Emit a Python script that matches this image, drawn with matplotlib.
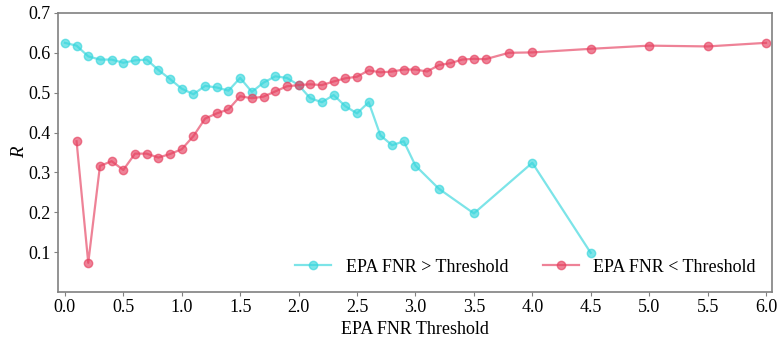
import matplotlib
matplotlib.use("Agg")
import matplotlib.pyplot as plt

plt.rcParams['font.family'] = ['Liberation Serif', 'DejaVu Serif']

x_gt = [0.0, 0.1, 0.2, 0.3, 0.4, 0.5, 0.6, 0.7, 0.8, 0.9, 1.0, 1.1, 1.2, 1.3, 1.4,
        1.5, 1.6, 1.7, 1.8, 1.9, 2.0, 2.1, 2.2, 2.3, 2.4, 2.5, 2.6, 2.7, 2.8, 2.9,
        3.0, 3.2, 3.5, 4.0, 4.5]
r_gt = [0.625, 0.618, 0.591, 0.583, 0.583, 0.575, 0.581, 0.583, 0.557, 0.534, 0.510,
        0.496, 0.517, 0.513, 0.505, 0.537, 0.502, 0.525, 0.541, 0.537, 0.519, 0.486,
        0.476, 0.494, 0.466, 0.448, 0.476, 0.393, 0.368, 0.378, 0.317, 0.259, 0.197,
        0.324, 0.098]

x_lt = [0.1, 0.2, 0.3, 0.4, 0.5, 0.6, 0.7, 0.8, 0.9, 1.0, 1.1, 1.2, 1.3, 1.4, 1.5,
        1.6, 1.7, 1.8, 1.9, 2.0, 2.1, 2.2, 2.3, 2.4, 2.5, 2.6, 2.7, 2.8, 2.9, 3.0,
        3.1, 3.2, 3.3, 3.4, 3.5, 3.6, 3.8, 4.0, 4.5, 5.0, 5.5, 6.0]
r_lt = [0.378, 0.073, 0.316, 0.328, 0.306, 0.347, 0.347, 0.337, 0.346, 0.358, 0.391,
        0.435, 0.448, 0.458, 0.491, 0.486, 0.490, 0.503, 0.516, 0.519, 0.521, 0.519,
        0.528, 0.536, 0.540, 0.556, 0.551, 0.553, 0.558, 0.558, 0.553, 0.569, 0.574,
        0.583, 0.585, 0.584, 0.600, 0.601, 0.610, 0.618, 0.616, 0.625]

labels = ["EPA FNR > Threshold", "EPA FNR < Threshold"]
cyan = "#36d6dc"
red = "#e6405f"

fig = plt.figure(figsize=(7.82, 3.41), dpi=100)
ax = fig.add_axes([0.074, 0.144, 0.913, 0.818])

ax.plot(x_gt, r_gt, color=cyan, marker='o', markersize=6, linewidth=1.6,
        alpha=0.65, label=labels[0])
ax.plot(x_lt, r_lt, color=red, marker='o', markersize=6, linewidth=1.6,
        alpha=0.65, label=labels[1])

ax.set_xlim(-0.06, 6.05)
ax.set_ylim(0.0, 0.7)
ax.set_xticks([0.0, 0.5, 1.0, 1.5, 2.0, 2.5, 3.0, 3.5, 4.0, 4.5, 5.0, 5.5, 6.0])
ax.set_yticks([0.1, 0.2, 0.3, 0.4, 0.5, 0.6, 0.7])
ax.tick_params(labelsize=13, length=3, pad=2, color='#808080')
for s in ax.spines.values():
    s.set_color('#808080')
    s.set_linewidth(1.2)

ax.set_xlabel("EPA FNR Threshold", fontsize=13)
ax.set_ylabel("R", fontsize=13.5, style='italic')
ax.yaxis.set_label_coords(-0.042, 0.5)

ax.legend(loc='lower right', ncol=2, frameon=False, fontsize=13,
          columnspacing=1.9, handlelength=2.0, bbox_to_anchor=(1.0, 0.0))

fig.savefig("out.png", dpi=100)
